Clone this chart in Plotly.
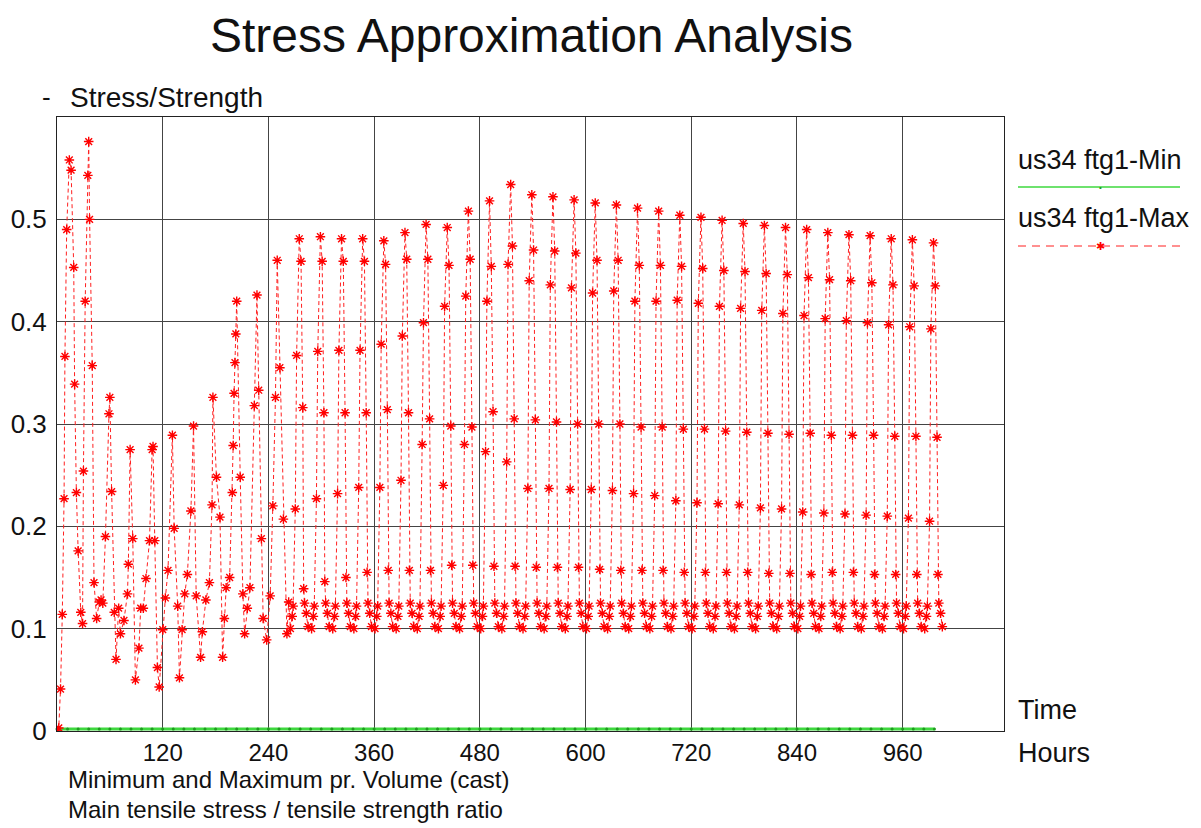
import plotly.graph_objects as go

# ---------------- data ----------------
# early, irregular days: absolute hours and stress/strength ratio (Max series)
early_hours = [
    [0, 2, 4, 6, 8, 9, 11, 14, 16, 19, 20, 22, 24, 27],
    [29, 30, 32, 35, 36, 37, 40, 42, 45, 48],
    [50, 52, 55, 59, 60, 62, 65, 67, 70, 72],
    [76, 80, 81, 83, 86, 89, 93, 95],
    [98, 101, 105, 108, 109, 111, 114, 116, 120],
    [123, 126, 131, 133, 137, 139, 142],
    [145, 148, 152, 155, 158, 163, 165],
    [169, 173, 176, 177, 181, 185, 188, 190],
    [192, 196, 199, 200, 201, 202, 203, 204, 208, 211, 213],
    [216, 219, 224, 227, 229, 232, 234, 238],
    [242, 245, 248, 250, 253, 257, 261, 263],
]
early_values = [
    [0.000, 0.003, 0.041, 0.114, 0.227, 0.366, 0.490, 0.558, 0.548, 0.453, 0.339, 0.233, 0.176, 0.116],
    [0.105, 0.254, 0.420, 0.543, 0.576, 0.500, 0.357, 0.145, 0.110, 0.126],
    [0.128, 0.125, 0.190, 0.310, 0.326, 0.234, 0.116, 0.070, 0.120, 0.095],
    [0.108, 0.134, 0.163, 0.275, 0.188, 0.050, 0.081, 0.120],
    [0.120, 0.149, 0.186, 0.275, 0.278, 0.186, 0.062, 0.043, 0.099],
    [0.130, 0.157, 0.289, 0.198, 0.122, 0.052, 0.099],
    [0.134, 0.153, 0.215, 0.298, 0.132, 0.072, 0.097],
    [0.128, 0.145, 0.221, 0.326, 0.248, 0.209, 0.072, 0.110],
    [0.140, 0.150, 0.233, 0.279, 0.330, 0.360, 0.388, 0.420, 0.248, 0.134, 0.095],
    [0.120, 0.140, 0.318, 0.426, 0.333, 0.188, 0.110, 0.089],
    [0.132, 0.220, 0.326, 0.460, 0.355, 0.207, 0.095, 0.126],
]

# regular daily cycles (days 11..41): day start hour and values at hour-of-day offsets
day_starts = [264, 288, 312, 336, 360, 384, 408, 432, 456, 480, 504, 528, 552, 576, 600, 624,
              648, 672, 696, 720, 744, 768, 792, 816, 840, 864, 888, 912, 936, 960, 984]
cycle_offsets = [1, 3, 4, 6.5, 8, 11, 13, 15, 16, 17, 19, 21]
cycle_values = [
    [0.100, 0.112, 0.122, 0.217, 0.367, 0.481, 0.459, 0.316, 0.139, 0.125, 0.115, 0.102],
    [0.100, 0.112, 0.122, 0.227, 0.371, 0.483, 0.459, 0.311, 0.146, 0.125, 0.115, 0.102],
    [0.100, 0.112, 0.122, 0.232, 0.372, 0.481, 0.459, 0.311, 0.150, 0.125, 0.115, 0.102],
    [0.100, 0.112, 0.122, 0.238, 0.372, 0.481, 0.459, 0.311, 0.155, 0.125, 0.115, 0.102],
    [0.100, 0.112, 0.122, 0.238, 0.378, 0.479, 0.456, 0.314, 0.157, 0.125, 0.115, 0.102],
    [0.100, 0.112, 0.122, 0.245, 0.386, 0.487, 0.461, 0.311, 0.157, 0.125, 0.115, 0.102],
    [0.100, 0.112, 0.122, 0.280, 0.399, 0.495, 0.461, 0.305, 0.157, 0.125, 0.115, 0.102],
    [0.100, 0.112, 0.122, 0.240, 0.415, 0.492, 0.455, 0.298, 0.162, 0.125, 0.115, 0.102],
    [0.100, 0.112, 0.122, 0.280, 0.425, 0.508, 0.461, 0.297, 0.162, 0.125, 0.115, 0.102],
    [0.100, 0.112, 0.122, 0.273, 0.420, 0.518, 0.454, 0.312, 0.161, 0.125, 0.115, 0.102],
    [0.100, 0.112, 0.122, 0.263, 0.456, 0.534, 0.474, 0.305, 0.161, 0.125, 0.115, 0.102],
    [0.100, 0.112, 0.122, 0.237, 0.440, 0.524, 0.470, 0.304, 0.160, 0.125, 0.115, 0.102],
    [0.100, 0.112, 0.122, 0.237, 0.436, 0.522, 0.469, 0.302, 0.160, 0.125, 0.115, 0.102],
    [0.100, 0.112, 0.122, 0.236, 0.433, 0.519, 0.467, 0.300, 0.160, 0.125, 0.115, 0.102],
    [0.100, 0.112, 0.122, 0.236, 0.428, 0.516, 0.460, 0.300, 0.158, 0.125, 0.115, 0.102],
    [0.100, 0.112, 0.122, 0.235, 0.430, 0.514, 0.460, 0.300, 0.157, 0.125, 0.115, 0.102],
    [0.100, 0.112, 0.122, 0.232, 0.420, 0.511, 0.455, 0.297, 0.157, 0.125, 0.115, 0.102],
    [0.100, 0.112, 0.122, 0.230, 0.420, 0.508, 0.455, 0.297, 0.157, 0.125, 0.115, 0.102],
    [0.100, 0.112, 0.122, 0.225, 0.421, 0.504, 0.454, 0.295, 0.155, 0.125, 0.115, 0.102],
    [0.100, 0.112, 0.122, 0.223, 0.418, 0.502, 0.452, 0.295, 0.155, 0.125, 0.115, 0.102],
    [0.100, 0.112, 0.122, 0.222, 0.415, 0.499, 0.450, 0.293, 0.155, 0.125, 0.115, 0.102],
    [0.100, 0.112, 0.122, 0.221, 0.413, 0.496, 0.449, 0.292, 0.155, 0.125, 0.115, 0.102],
    [0.100, 0.112, 0.122, 0.218, 0.411, 0.494, 0.447, 0.291, 0.154, 0.125, 0.115, 0.102],
    [0.100, 0.112, 0.122, 0.217, 0.408, 0.492, 0.446, 0.290, 0.154, 0.125, 0.115, 0.102],
    [0.100, 0.112, 0.122, 0.214, 0.406, 0.490, 0.443, 0.291, 0.153, 0.125, 0.115, 0.102],
    [0.100, 0.112, 0.122, 0.213, 0.403, 0.487, 0.441, 0.289, 0.155, 0.125, 0.115, 0.102],
    [0.100, 0.112, 0.122, 0.212, 0.401, 0.485, 0.440, 0.289, 0.155, 0.125, 0.115, 0.102],
    [0.100, 0.112, 0.122, 0.211, 0.399, 0.484, 0.438, 0.289, 0.153, 0.125, 0.115, 0.102],
    [0.100, 0.112, 0.122, 0.210, 0.397, 0.481, 0.436, 0.288, 0.153, 0.125, 0.115, 0.102],
    [0.100, 0.112, 0.122, 0.208, 0.395, 0.480, 0.435, 0.288, 0.153, 0.125, 0.115, 0.102],
    [0.100, 0.112, 0.122, 0.205, 0.393, 0.477, 0.435, 0.287, 0.153, 0.125, 0.115, 0.102],
]

# Min series: essentially zero along the whole period
min_hours = [0, 12, 24, 36, 48, 60, 72, 84, 96, 108, 120, 132, 144, 156, 168, 180, 192, 204,
             216, 228, 240, 252, 264, 276, 288, 300, 312, 324, 336, 348, 360, 372, 384, 396,
             408, 420, 432, 444, 456, 468, 480, 492, 504, 516, 528, 540, 552, 564, 576, 588,
             600, 612, 624, 636, 648, 660, 672, 684, 696, 708, 720, 732, 744, 756, 768, 780,
             792, 804, 816, 828, 840, 852, 864, 876, 888, 900, 912, 924, 936, 948, 960, 972,
             984, 996]
min_values = [0.002, 0.002, 0.002, 0.002, 0.002, 0.002, 0.002, 0.002, 0.002, 0.002, 0.002, 0.002,
              0.002, 0.002, 0.002, 0.002, 0.002, 0.002, 0.002, 0.002, 0.002, 0.002, 0.002, 0.002,
              0.002, 0.002, 0.002, 0.002, 0.002, 0.002, 0.002, 0.002, 0.002, 0.002, 0.002, 0.002,
              0.002, 0.002, 0.002, 0.002, 0.002, 0.002, 0.002, 0.002, 0.002, 0.002, 0.002, 0.002,
              0.002, 0.002, 0.002, 0.002, 0.002, 0.002, 0.002, 0.002, 0.002, 0.002, 0.002, 0.002,
              0.002, 0.002, 0.002, 0.002, 0.002, 0.002, 0.002, 0.002, 0.002, 0.002, 0.002, 0.002,
              0.002, 0.002, 0.002, 0.002, 0.002, 0.002, 0.002, 0.002, 0.002, 0.002, 0.002, 0.002]

x_ticks = [120, 240, 360, 480, 600, 720, 840, 960]
y_ticks = [0, 0.1, 0.2, 0.3, 0.4, 0.5]
y_tick_labels = ["0", "0.1", "0.2", "0.3", "0.4", "0.5"]

series_names = ["us34 ftg1-Min", "us34 ftg1-Max"]

# ---------------- assemble Max series ----------------
max_x, max_y = [], []
for hrs, vals in zip(early_hours, early_values):
    max_x.extend(hrs)
    max_y.extend(vals)
for start, vals in zip(day_starts, cycle_values):
    max_x.extend([start + o for o in cycle_offsets])
    max_y.extend(vals)

FONT = "Liberation Sans, Arial, sans-serif"
OFF = 8                               # page body margin of the browser
L, R, T, B = 57, 1004, 117, 731       # plot area in screen pixels
SW, SH = 1201, 828                    # screen size
W, H = SW - OFF, SH - OFF             # figure size


def px(xp):
    return (xp - L) / (R - L)


def py(yp):
    return (B - yp) / (B - T)


fig = go.Figure()
fig.add_trace(go.Scatter(
    x=min_hours, y=min_values, mode="lines+markers", name=series_names[0],
    line=dict(color="#3ed83e", width=3),
    marker=dict(symbol="circle", size=3, color="#1f9a1f"),
    showlegend=False, cliponaxis=False,
))
fig.add_trace(go.Scatter(
    x=max_x, y=max_y, mode="lines+markers", name=series_names[1],
    line=dict(color="#ff2020", width=1, dash="4px,3px"),
    marker=dict(symbol="asterisk-open", size=8, color="red",
                line=dict(color="red", width=1.4)),
    showlegend=False,
))


def note(text, x, y, size, anchor="left", yanchor="middle", color="#111", pad=1):
    return dict(text=text, x=px(x), y=py(y), xref="paper", yref="paper", showarrow=False,
                xanchor=anchor, yanchor=yanchor, borderpad=pad,
                font=dict(family=FONT, size=size, color=color))


annotations = [
    note("Stress Approximation Analysis", 531, OFF, 48, anchor="center", yanchor="top", pad=0),
    note("-", 40, 97, 26),
    note("Stress/Strength", 68, 97, 28),
    note("Time", 1016, 710, 27),
    note("Hours", 1016, 753, 27),
    note("Minimum and Maximum pr. Volume (cast)", 66, 779, 24),
    note("Main tensile stress / tensile strength ratio", 66, 809, 24),
    note(series_names[0], 1016, 160, 27),
    note(series_names[1], 1016, 218, 27),
    note("✱", 1100, 246, 11, anchor="center", color="red"),
    note("•", 1100, 187, 8, anchor="center", color="#1f9a1f"),
]

shapes = [
    dict(type="line", xref="paper", yref="paper", x0=px(1018), x1=px(1180), y0=py(187), y1=py(187),
         line=dict(color="#3ed83e", width=1.5)),
    dict(type="line", xref="paper", yref="paper", x0=px(1018), x1=px(1180), y0=py(246), y1=py(246),
         line=dict(color="#ff2020", width=1, dash="8px,6px")),
    dict(type="line", xref="paper", yref="paper", x0=px(1195), x1=px(1195), y0=py(OFF), y1=py(SH),
         line=dict(color="#bbbbbb", width=2)),
]

fig.update_layout(
    width=W, height=H,
    margin=dict(l=L - OFF, r=W - (R - OFF), t=T - OFF, b=H - (B - OFF), pad=0, autoexpand=False),
    paper_bgcolor="white", plot_bgcolor="white",
    font=dict(family=FONT, color="#111"),
    annotations=annotations, shapes=shapes,
    showlegend=False,
)
fig.update_xaxes(
    range=[0, 1075], tickmode="array", tickvals=x_ticks, ticktext=[str(v) for v in x_ticks],
    showgrid=True, gridcolor="#444", gridwidth=1, zeroline=False, automargin=False,
    showline=True, linecolor="#222", linewidth=1, mirror=True, ticks="",
    tickfont=dict(family=FONT, size=24, color="#111"), ticklabelstandoff=0,
)
fig.update_yaxes(
    range=[0, 0.6], tickmode="array", tickvals=y_ticks, ticktext=y_tick_labels,
    showgrid=True, gridcolor="#444", gridwidth=1, zeroline=False, automargin=False,
    showline=True, linecolor="#222", linewidth=1, mirror=True, ticks="",
    tickfont=dict(family=FONT, size=26, color="#111"), ticklabelstandoff=4,
)

fig.write_html("out.html")
